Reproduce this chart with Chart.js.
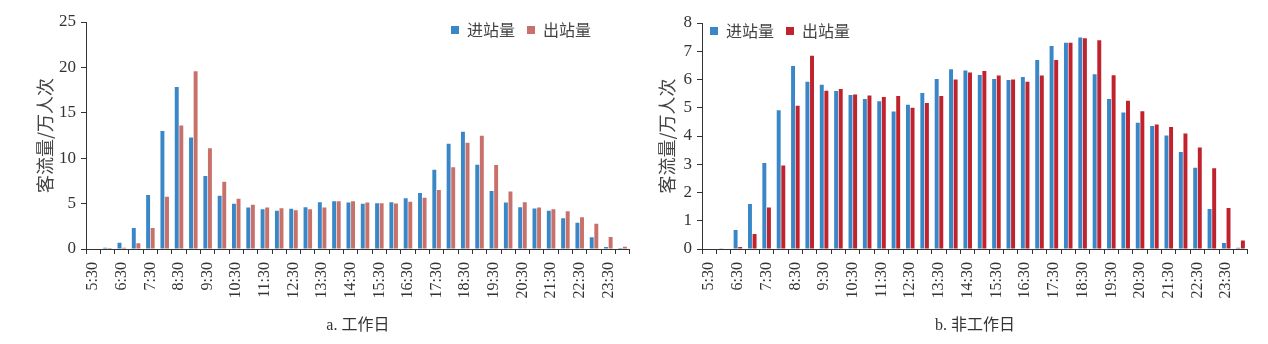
<!DOCTYPE html>
<html>
<head>
<meta charset="utf-8">
<script src="https://cdn.jsdelivr.net/npm/chart.js@4/dist/chart.umd.min.js"></script>
<style>
  html, body { margin: 0; padding: 0; background: #fff; }
  #wrap { position: relative; width: 1268px; height: 344px; }
  .panel { position: absolute; top: 0; height: 344px; }
  #left { left: 0; width: 650px; }
  #right { left: 650px; width: 618px; }
</style>
</head>
<body>
<div id="wrap">
  <div class="panel" id="left"><canvas id="c-work"></canvas></div>
  <div class="panel" id="right"><canvas id="c-rest"></canvas></div>
</div>
<script>
// half-hour slots, 5:30 .. 24:00 (only whole "x:30" ones get a label)
const times = [
  "5:30", "6:00", "6:30", "7:00", "7:30", "8:00", "8:30", "9:00", "9:30", "10:00",
  "10:30", "11:00", "11:30", "12:00", "12:30", "13:00", "13:30", "14:00", "14:30", "15:00",
  "15:30", "16:00", "16:30", "17:00", "17:30", "18:00", "18:30", "19:00", "19:30", "20:00",
  "20:30", "21:00", "21:30", "22:00", "22:30", "23:00", "23:30", "24:00",
];
const seriesNames = ["进站量", "出站量"];

// a. 工作日 (万人次)
const workIn = [
  0.05, 0.15, 0.7, 2.3, 5.94, 13.0, 17.85, 12.28, 8.04, 5.86,
  4.98, 4.57, 4.39, 4.2, 4.42, 4.61, 5.16, 5.27, 5.12, 4.98,
  5.05, 5.16, 5.6, 6.16, 8.74, 11.58, 12.9, 9.29, 6.38, 5.12,
  4.6, 4.46, 4.2, 3.39, 2.88, 1.29, 0.22, 0.1,
];
const workOut = [
  0.05, 0.1, 0.15, 0.63, 2.32, 5.75, 13.6, 19.58, 11.1, 7.41,
  5.53, 4.87, 4.57, 4.5, 4.28, 4.39, 4.57, 5.27, 5.27, 5.12,
  5.05, 5.0, 5.2, 5.64, 6.49, 9.0, 11.69, 12.46, 9.25, 6.34,
  5.16, 4.57, 4.39, 4.17, 3.5, 2.77, 1.33, 0.26,
];

// b. 非工作日 (万人次)
const restIn = [
  0.02, 0.03, 0.67, 1.59, 3.04, 4.91, 6.48, 5.92, 5.81, 5.59,
  5.45, 5.31, 5.23, 4.87, 5.11, 5.52, 6.02, 6.36, 6.32, 6.16,
  6.02, 5.98, 6.09, 6.69, 7.19, 7.3, 7.49, 6.19, 5.31, 4.83,
  4.47, 4.35, 4.02, 3.43, 2.88, 1.42, 0.21, 0.04,
];
const restOut = [
  0.02, 0.02, 0.07, 0.53, 1.47, 2.96, 5.07, 6.84, 5.6, 5.66,
  5.47, 5.43, 5.38, 5.42, 5.0, 5.17, 5.42, 6.0, 6.25, 6.3,
  6.14, 6.0, 5.92, 6.14, 6.69, 7.3, 7.46, 7.39, 6.15, 5.25,
  4.88, 4.41, 4.32, 4.09, 3.59, 2.86, 1.45, 0.3,
];

const BLUE = "#3a87c8";
const SERIF = "'Liberation Serif', 'Noto Sans CJK SC', serif";
const CJK = "'Noto Sans CJK SC', sans-serif";
const INK = "#333";

// legend sits inside the plot in the original: take no layout room, then nudge it
function legendInside(dx, dy) {
  return {
    id: "legendInside",
    beforeLayout(chart) {
      const lg = chart.legend;
      if (!lg || lg._flat) return;
      const fit = lg.fit;
      lg.fit = function () {
        fit.call(this);
        this.height = 0;
      };
      lg._flat = true;
    },
    afterLayout(chart) {
      const lg = chart.legend;
      if (!lg) return;
      lg.left += dx;
      lg.right += dx;
      lg.top += dy;
      lg.bottom = lg.top + 40; // draw() clips to the box
    },
  };
}

function makePanel(canvasId, cfg) {
  return new Chart(document.getElementById(canvasId), {
    type: "bar",
    data: {
      labels: times,
      datasets: [
        { label: seriesNames[0], data: cfg.inData, backgroundColor: BLUE, borderWidth: 0 },
        { label: seriesNames[1], data: cfg.outData, backgroundColor: cfg.outColor, borderWidth: 0 },
      ],
    },
    options: {
      responsive: true,
      maintainAspectRatio: false,
      animation: false,
      datasets: { bar: { categoryPercentage: 0.64, barPercentage: 0.86 } },
      layout: { padding: { left: 0, right: cfg.padRight, top: cfg.padTop, bottom: 0 } },
      plugins: {
        tooltip: { enabled: false },
        legend: {
          position: "top",
          align: cfg.legendAlign,
          labels: {
            boxWidth: 8,
            boxHeight: 8,
            padding: 12,
            color: "#444",
            font: { family: CJK, size: 16 },
          },
        },
      },
      scales: {
        x: {
          grid: { display: true, drawOnChartArea: false, drawTicks: true, tickLength: 5, color: INK, offset: true },
          border: { display: true, color: INK, width: 1 },
          ticks: {
            autoSkip: false,
            maxRotation: 90,
            minRotation: 90,
            padding: 8,
            color: INK,
            font: { family: SERIF, size: 16 },
            callback: (v, i) => (i % 2 === 0 ? times[i] : ""),
          },
          title: {
            display: true,
            text: cfg.caption,
            color: INK,
            font: { family: SERIF, size: 16 },
            padding: { top: 0, bottom: 9 },
          },
          afterFit: (s) => { s.height = 95; },
        },
        y: {
          min: 0,
          max: cfg.yMax,
          grid: { display: true, drawOnChartArea: false, drawTicks: true, tickLength: 5, color: INK },
          border: { display: true, color: INK, width: 1 },
          ticks: { stepSize: cfg.yStep, padding: 5, color: INK, font: { family: SERIF, size: 17 } },
          title: {
            display: true,
            text: "客流量/万人次",
            color: "#444",
            font: { family: CJK, size: 18 },
            padding: { top: cfg.yTitlePad, bottom: 0 },
          },
          afterFit: (s) => { s.width = cfg.yWidth; },
        },
      },
    },
    plugins: [legendInside(cfg.legendDx, -12)],
  });
}

makePanel("c-work", {
  inData: workIn,
  outData: workOut,
  outColor: "#c8716a",
  caption: "a. 工作日",
  yMax: 25,
  yStep: 5,
  yWidth: 86,
  yTitlePad: 34,
  padTop: 22,
  padRight: 12,
  legendAlign: "end",
  legendDx: -35,
});

makePanel("c-rest", {
  inData: restIn,
  outData: restOut,
  outColor: "#c0232e",
  caption: "b. 非工作日",
  yMax: 8,
  yStep: 1,
  yWidth: 52,
  yTitlePad: 6,
  padTop: 23,
  padRight: 16,
  legendAlign: "start",
  legendDx: 48,
});
</script>
</body>
</html>
